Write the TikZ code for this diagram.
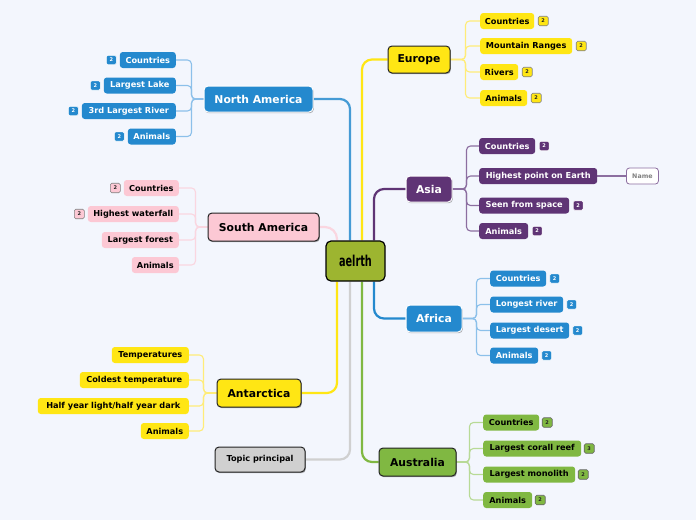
\documentclass[tikz,border=0pt]{standalone}
\usepackage{fontspec}
\setmainfont{DejaVu Sans}
\newfontfamily\cfont{DejaVu Sans Condensed}
\usepackage{graphicx}
\usetikzlibrary{positioning,shadows}
\definecolor{bgc}{RGB}{243,246,253}
\definecolor{cblue}{RGB}{36,137,206}
\definecolor{lblue}{RGB}{140,192,234}
\definecolor{cpurple}{RGB}{95,52,117}
\definecolor{lpurple}{RGB}{140,110,160}
\definecolor{cyellow}{RGB}{255,230,20}
\definecolor{lyellow}{RGB}{255,236,120}
\definecolor{cpink}{RGB}{252,200,212}
\definecolor{lpink}{RGB}{250,214,224}
\definecolor{cgreen}{RGB}{128,184,66}
\definecolor{lgreen}{RGB}{184,218,150}
\definecolor{colive}{RGB}{157,181,48}
\definecolor{cgray}{RGB}{208,208,208}
\definecolor{dark}{RGB}{34,34,34}
\pgfdeclarelayer{bg}
\pgfdeclarelayer{edges}
\pgfsetlayers{bg,edges,main}
\begin{document}
\begin{tikzpicture}[x=1pt,y=-1pt,
  topic/.style={rounded corners=4pt, inner sep=0pt, line width=1pt,
    font=\fontsize{10.8}{12}\selectfont\bfseries,
    drop shadow={shadow xshift=0.8pt, shadow yshift=-1.2pt, opacity=0.3, fill=black}},
  sub/.style={rounded corners=3pt, inner sep=0pt, minimum height=16pt,
    font=\fontsize{8.2}{9}\selectfont\bfseries},
  badge/.style={rounded corners=1.5pt, inner sep=0pt, minimum width=10pt,
    minimum height=9.5pt, line width=0.6pt, font=\fontsize{5}{5}\selectfont\bfseries},
  mainline/.style={line width=2.2pt, rounded corners=10pt},
  subline/.style={line width=1.1pt, rounded corners=4pt},
  bluesub/.style={sub, fill=cblue, text=white},
  purplesub/.style={sub, fill=cpurple, text=white},
  yellowsub/.style={sub, fill=cyellow, text=black},
  pinksub/.style={sub, fill=cpink, text=black},
  greensub/.style={sub, fill=cgreen, text=black},
  bluebadge/.style={badge, fill=cblue, draw=white, text=white},
  purplebadge/.style={badge, fill=cpurple, draw=white, text=white},
  yellowbadge/.style={badge, fill=cyellow, draw=gray, text=dark},
  pinkbadge/.style={badge, fill=cpink, draw=gray, text=dark},
  greenbadge/.style={badge, fill=cgreen, draw=dark!70, text=dark},
]
\begin{pgfonlayer}{bg}
\fill[bgc] (0,0) rectangle (696,520);
\end{pgfonlayer}
\useasboundingbox (0,0) rectangle (696,520);

% central topic
\node[draw=black, fill=colive, line width=1.2pt, rounded corners=5pt, minimum width=59pt,
  minimum height=40pt, inner sep=0pt] (c) at (355.5,261)
  {\scalebox{0.72}[1]{\cfont\bfseries\fontsize{15}{15}\selectfont aelrth}};

% main topics
\node[topic, fill=cyellow, draw=dark, minimum width=62pt, minimum height=27pt] (eu) at (419,59.5) {Europe};
\node[topic, fill=cpurple, draw=white, text=white, minimum width=46pt, minimum height=26pt] (as) at (429,189) {Asia};
\node[topic, fill=cblue, draw=white, text=white, minimum width=56pt, minimum height=27pt] (af) at (434,318.5) {Africa};
\node[topic, fill=cgreen, draw=dark, minimum width=77pt, minimum height=28pt] (au) at (417.5,462) {Australia};
\node[topic, fill=cblue, draw=white, text=white, minimum width=109pt, minimum height=26pt] (na) at (258.5,99) {North America};
\node[topic, fill=cpink, draw=dark, minimum width=111pt, minimum height=28pt] (sa) at (263.5,227) {South America};
\node[topic, fill=cyellow, draw=dark, minimum width=84pt, minimum height=28pt] (an) at (259,393) {Antarctica};
\node[topic, fill=cgray, draw=dark, minimum width=90pt, minimum height=25pt,
  font=\fontsize{8.2}{9}\selectfont\bfseries] (tp) at (260,459.5) {Topic principal};

% Europe children
\node[yellowsub, minimum width=54pt, anchor=west] (e1) at (480,21) {Countries};
\node[yellowsub, minimum width=92pt, anchor=west] (e2) at (480,46) {Mountain Ranges};
\node[yellowsub, minimum width=38pt, anchor=west] (e3) at (480,72) {Rivers};
\node[yellowsub, minimum width=47pt, anchor=west] (e4) at (480,98) {Animals};
\node[yellowbadge, right=3.5pt of e1] (eb1) {2};
\node[yellowbadge, right=3.5pt of e2] (eb2) {2};
\node[yellowbadge, right=3.5pt of e3] (eb3) {2};
\node[yellowbadge, right=3.5pt of e4] (eb4) {2};

% Asia children
\node[purplesub, minimum width=56pt, anchor=west] (a1) at (479,146) {Countries};
\node[purplesub, minimum width=118pt, anchor=west] (a2) at (479,176) {Highest point on Earth};
\node[purplesub, minimum width=90pt, anchor=west] (a3) at (479,205.5) {Seen from space};
\node[purplesub, minimum width=49pt, anchor=west] (a4) at (479,231) {Animals};
\node[purplebadge, right=3.5pt of a1] (ab1) {2};
\node[purplebadge, right=3.5pt of a3] (ab3) {2};
\node[purplebadge, right=3.5pt of a4] (ab4) {2};
\node[sub, fill=white, draw=lpurple, line width=0.8pt, text=gray, minimum width=32pt,
  font=\fontsize{6.3}{7}\selectfont\bfseries, anchor=west] (aname) at (626,176) {Name};

% Africa children
\node[bluesub, minimum width=56pt, anchor=west] (f1) at (490,278.5) {Countries};
\node[bluesub, minimum width=73pt, anchor=west] (f2) at (490,304.5) {Longest river};
\node[bluesub, minimum width=79pt, anchor=west] (f3) at (490,330.5) {Largest desert};
\node[bluesub, minimum width=48pt, anchor=west] (f4) at (490,355.5) {Animals};
\node[bluebadge, right=3pt of f1] (fb1) {2};
\node[bluebadge, right=3pt of f2] (fb2) {2};
\node[bluebadge, right=3pt of f3] (fb3) {2};
\node[bluebadge, right=3pt of f4] (fb4) {2};

% Australia children
\node[greensub, minimum width=56pt, anchor=west] (u1) at (483,422.5) {Countries};
\node[greensub, minimum width=98pt, anchor=west] (u2) at (483,448.5) {Largest corall reef};
\node[greensub, minimum width=92pt, anchor=west] (u3) at (483,474.5) {Largest monolith};
\node[greensub, minimum width=49pt, anchor=west] (u4) at (483,500) {Animals};
\node[greenbadge, right=2.5pt of u1] (ub1) {2};
\node[greenbadge, right=2.5pt of u2] (ub2) {3};
\node[greenbadge, right=2.5pt of u3] (ub3) {2};
\node[greenbadge, right=2.5pt of u4] (ub4) {2};

% North America children
\node[bluesub, minimum width=56pt, anchor=east] (n1) at (176,60) {Countries};
\node[bluesub, minimum width=72pt, anchor=east] (n2) at (176,85.5) {Largest Lake};
\node[bluesub, minimum width=94pt, anchor=east] (n3) at (176,111) {3rd Largest River};
\node[bluesub, minimum width=48pt, anchor=east] (n4) at (176,136.5) {Animals};
\node[bluebadge, left=3pt of n1] (nb1) {2};
\node[bluebadge, left=3pt of n2] (nb2) {2};
\node[bluebadge, left=3pt of n3] (nb3) {2};
\node[bluebadge, left=3pt of n4] (nb4) {2};

% South America children
\node[pinksub, minimum width=55pt, anchor=east] (s1) at (179,188) {Countries};
\node[pinksub, minimum width=91pt, anchor=east] (s2) at (179,214) {Highest waterfall};
\node[pinksub, minimum width=77pt, anchor=east] (s3) at (179,240) {Largest forest};
\node[pinksub, minimum width=47pt, anchor=east] (s4) at (179,265) {Animals};
\node[pinkbadge, left=3pt of s1] (sb1) {2};
\node[pinkbadge, left=3pt of s2] (sb2) {2};

% Antarctica children
\node[yellowsub, minimum width=77pt, anchor=east] (t1) at (189,355) {Temperatures};
\node[yellowsub, minimum width=109pt, anchor=east] (t2) at (189,380) {Coldest temperature};
\node[yellowsub, minimum width=151pt, anchor=east] (t3) at (189,406) {Half year light/half year dark};
\node[yellowsub, minimum width=48pt, anchor=east] (t4) at (189,431) {Animals};

\begin{pgfonlayer}{edges}
% main connectors
\draw[mainline, cblue!85] (na.east) -| ([xshift=-5.5pt]c.north);
\draw[mainline, cyellow] (eu.west) -| ([xshift=6.5pt]c.north);
\draw[mainline, cpurple] (as.west) -| ([xshift=18.5pt]c.north);
\draw[mainline, lpink, rounded corners=12pt] (sa.east) -| ([xshift=-18.5pt]c.north);
\draw[mainline, cyellow] (an.east) -| ([xshift=-18.5pt]c.south);
\draw[mainline, cgray] (tp.east) -| ([xshift=-5.5pt]c.south);
\draw[mainline, cgreen] (au.west) -| ([xshift=6.5pt]c.south);
\draw[mainline, cblue] (af.west) -| ([xshift=18.5pt]c.south);
% sub connectors
\foreach \k in {e1,e2,e3,e4} \draw[subline, lyellow] (eu.east) -- ++(15,0) |- (\k.west);
\foreach \k in {a1,a2,a3,a4} \draw[subline, lpurple] (as.east) -- ++(14,0) |- (\k.west);
\foreach \k in {f1,f2,f3,f4} \draw[subline, lblue] (af.east) -- ++(14,0) |- (\k.west);
\foreach \k in {u1,u2,u3,u4} \draw[subline, lgreen] (au.east) -- ++(13,0) |- (\k.west);
\foreach \k in {n1,n2,n3,n4} \draw[subline, lblue] (na.west) -- ++(-12,0) |- (\k.east);
\foreach \k in {s1,s2,s3,s4} \draw[subline, lpink] (sa.west) -- ++(-12,0) |- (\k.east);
\foreach \k in {t1,t2,t3,t4} \draw[subline, lyellow] (an.west) -- ++(-13,0) |- (\k.east);
\draw[subline, lpurple] (a2.east) -- (aname.west);
\end{pgfonlayer}
\end{tikzpicture}
\end{document}
